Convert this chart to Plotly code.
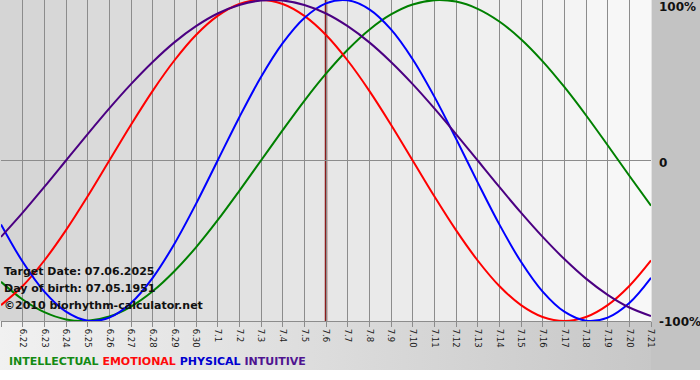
import base64
import plotly.graph_objects as go

# ---- data ----
dates = ["6.21", "6.22", "6.23", "6.24", "6.25", "6.26", "6.27", "6.28", "6.29", "6.30",
         "7.1", "7.2", "7.3", "7.4", "7.5", "7.6", "7.7", "7.8", "7.9", "7.10", "7.11",
         "7.12", "7.13", "7.14", "7.15", "7.16", "7.17", "7.18", "7.19", "7.20", "7.21"]

intellectual = [-0.756, -0.866, -0.945, -0.990, -0.999, -0.972, -0.910, -0.815, -0.690, -0.541,
                -0.372, -0.189, 0.000, 0.189, 0.372, 0.541, 0.690, 0.815, 0.910, 0.972, 0.999,
                0.990, 0.945, 0.866, 0.756, 0.618, 0.458, 0.282, 0.095, -0.095, -0.282]
emotional = [-0.901, -0.782, -0.623, -0.434, -0.223, 0.000, 0.223, 0.434, 0.623, 0.782, 0.901,
             0.975, 1.000, 0.975, 0.901, 0.782, 0.623, 0.434, 0.223, 0.000, -0.223, -0.434,
             -0.623, -0.782, -0.901, -0.975, -1.000, -0.975, -0.901, -0.782, -0.623]
physical = [-0.398, -0.631, -0.817, -0.942, -0.998, -0.979, -0.888, -0.731, -0.520, -0.270,
            0.000, 0.270, 0.520, 0.731, 0.888, 0.979, 0.998, 0.942, 0.817, 0.631, 0.398, 0.136,
            -0.136, -0.398, -0.631, -0.817, -0.942, -0.998, -0.979, -0.888, -0.731]
intuitive = [-0.476, -0.325, -0.165, 0.000, 0.165, 0.325, 0.476, 0.614, 0.736, 0.837, 0.916,
             0.969, 0.997, 0.997, 0.969, 0.916, 0.837, 0.736, 0.614, 0.476, 0.325, 0.165, 0.000,
             -0.165, -0.325, -0.476, -0.614, -0.736, -0.837, -0.916, -0.969]

series_names = ["INTELLECTUAL", "EMOTIONAL", "PHYSICAL", "INTUITIVE"]
target_date = "7.6"
target_text = "Target Date: 07.06.2025"
birth_text = "Day of birth: 07.05.1951"
credit_text = "\u00a92010 biorhythm-calculator.net"
y_labels = ["100%", "0", "-100%"]
y_label_vals = [1, 0, -1]

# ---- styling ----
W, H = 700, 380
ML, MR, MT, MB = 1, 49, 0, 59
PW, PH = W - ML - MR, H - MT - MB
line_colors = ["#008000", "#ff0000", "#0000ff", "#4b0082"]
legend_colors = ["#138a13", "#ff0a0a", "#0000d0", "#4f1490"]
FONT = "DejaVu Sans"

x_idx = list(range(len(dates)))

# background picture (decoration only): stepped plot-area gradient, grey frame areas
ncol = len(dates) - 1
cw = PW / ncol
rects = []
for i in range(ncol):
    v = int(round(213 + (248 - 213) * i / (ncol - 1)))
    rects.append(f'<rect x="{ML + i * cw:.2f}" y="0" width="{cw + 0.6:.2f}" height="{PH}" '
                 f'fill="rgb({v},{v},{v})"/>')
svg = (f'<svg xmlns="http://www.w3.org/2000/svg" width="{W}" height="{H}" viewBox="0 0 {W} {H}">'
       '<defs><linearGradient id="g" x1="0" y1="0" x2="1" y2="0">'
       '<stop offset="0" stop-color="#f1f1f1"/><stop offset="1" stop-color="#c4c4c4"/>'
       '</linearGradient></defs>'
       f'<rect x="0" y="0" width="{W}" height="{H}" fill="#ffffff"/>'
       f'<rect x="0" y="{PH}" width="{W}" height="{370 - PH}" fill="url(#g)"/>'
       f'<rect x="{ML + PW}" y="0" width="{MR}" height="{370}" fill="#c3c3c3"/>'
       f'<rect x="0" y="0" width="{ML}" height="{PH}" fill="#d5d5d5"/>'
       + "".join(rects) + '</svg>')
svg_uri = "data:image/svg+xml;base64," + base64.b64encode(svg.encode()).decode()

fig = go.Figure()
for name, vals, col in zip(series_names, [intellectual, emotional, physical, intuitive], line_colors):
    fig.add_trace(go.Scatter(x=x_idx, y=vals, mode="lines", name=name,
                             line=dict(color=col, width=2, shape="spline", smoothing=1),
                             hoverinfo="skip"))

t_i = dates.index(target_date)
fig.add_shape(type="line", xref="x", yref="paper", x0=t_i, x1=t_i, y0=0, y1=1,
              line=dict(color="#8a1c1c", width=2.5), layer="between")

ann = []
# right-hand percent labels
shifts = [-7, -2, -1]
for lab, v, s in zip(y_labels, y_label_vals, shifts):
    ann.append(dict(text=f"<b>{lab}</b>", xref="paper", yref="y", x=1, y=v, xanchor="left",
                    yanchor="middle", xshift=6, yshift=s, showarrow=False,
                    font=dict(family=FONT, size=12, color="#111111")))
# overlay texts
for txt, py in zip([target_text, birth_text, credit_text], [271, 288, 305]):
    ann.append(dict(text=f"<b>{txt}</b>", xref="paper", yref="paper", x=(2 - ML) / PW,
                    y=(PH - py) / PH, xanchor="left", yanchor="middle", showarrow=False,
                    font=dict(family=FONT, size=11, color="#111111")))
# legend row
leg = "&nbsp;".join(f'<span style="color:{c}">{n}</span>' for n, c in zip(series_names, legend_colors))
ann.append(dict(text=f"<b>{leg}</b>", xref="paper", yref="paper", x=(7 - ML) / PW,
                y=(PH - 362) / PH, xanchor="left", yanchor="middle", showarrow=False,
                font=dict(family=FONT, size=11)))

fig.update_layout(
    width=W, height=H,
    margin=dict(l=ML, r=MR, t=MT, b=MB, pad=0),
    paper_bgcolor="#ffffff", plot_bgcolor="rgba(0,0,0,0)",
    showlegend=False,
    annotations=ann,
    images=[dict(source=svg_uri, xref="paper", yref="paper", x=-ML / PW, y=1,
                 sizex=W / PW, sizey=H / PH, xanchor="left", yanchor="top",
                 sizing="stretch", layer="below")],
    xaxis=dict(range=[0, len(dates) - 1], tickvals=x_idx, ticktext=dates, tickangle=90,
               showgrid=True, gridcolor="#8c8c8c", gridwidth=1, zeroline=False,
               showline=True, linecolor="#8c8c8c", linewidth=1,
               ticks="outside", ticklen=5, tickcolor="#8c8c8c",
               tickfont=dict(family=FONT, size=8.5, color="#1a1a1a"), fixedrange=True),
    yaxis=dict(range=[-1, 1], tickvals=[0], showticklabels=False, showgrid=True,
               gridcolor="#8c8c8c", gridwidth=1, zeroline=False, showline=False,
               fixedrange=True),
)

fig.write_html("out.html", config={"displayModeBar": False},
               post_script="document.body.style.margin='0';document.body.style.overflow='hidden';")
